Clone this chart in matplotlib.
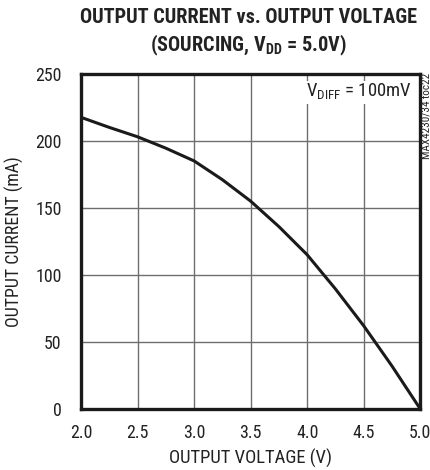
import matplotlib
matplotlib.use("Agg")
from matplotlib import pyplot as plt
from matplotlib import font_manager

# values
voltage = [2.0, 2.25, 2.5, 2.75, 3.0, 3.25, 3.5, 3.75, 4.0, 4.25, 4.5, 4.75, 5.0]
current = [217.5, 210, 203, 194.5, 185, 171, 155, 136, 115, 89.5, 62, 32, 0]
xticks = [2.0, 2.5, 3.0, 3.5, 4.0, 4.5, 5.0]
yticks = [0, 50, 100, 150, 200, 250]

# prefer a narrow face if one is installed
names = {f.name for f in font_manager.fontManager.ttflist}
fam = 'Liberation Sans'
for cand in ['Liberation Sans Narrow', 'Roboto Condensed', 'Open Sans Condensed']:
    if cand in names:
        fam = cand
        break
narrow = fam != 'Liberation Sans'
k = 1.12 if narrow else 1.0

plt.rcParams['font.family'] = [fam, 'DejaVu Sans']
plt.rcParams['mathtext.fontset'] = 'custom'
plt.rcParams['mathtext.rm'] = fam
plt.rcParams['mathtext.bf'] = fam + ':bold'

fig = plt.figure(figsize=(4.31, 4.70), dpi=100)
ax = fig.add_axes([0.188, 0.130, 0.787, 0.713])

ax.plot(voltage, current, color='#1a1a1a', lw=2.2, solid_capstyle='butt')
ax.set_xlim(2.0, 5.0)
ax.set_ylim(0, 250)
ax.set_xticks(xticks)
ax.set_xticklabels(['%.1f' % v for v in xticks])
ax.set_yticks(yticks)
ax.grid(True, color='#6e6e6e', lw=1.0)
ax.tick_params(length=0, labelsize=11.5 * k, colors='#222222')
ax.tick_params(axis='x', pad=11)
ax.tick_params(axis='y', pad=14)
for s in ax.spines.values():
    s.set_linewidth(2.4)
    s.set_color('#1a1a1a')

ax.set_xlabel('OUTPUT VOLTAGE (V)', fontsize=12 * k, labelpad=5, color='#222222')
ax.set_ylabel('OUTPUT CURRENT (mA)', fontsize=11.5 * k, labelpad=8, color='#222222')

fig.text(0.577, 0.962, 'OUTPUT CURRENT vs. OUTPUT VOLTAGE', ha='center', va='center',
         fontsize=13 * k, fontweight='bold', color='#222222')
fig.text(0.577, 0.903, r'(SOURCING, V$_{\mathbf{DD}}$ = 5.0V)', ha='center', va='center',
         fontsize=13 * k, fontweight='bold', color='#222222')

ax.text(0.975, 0.975, r'V$_{\mathregular{DIFF}}$ = 100mV', transform=ax.transAxes,
        ha='right', va='top', fontsize=12 * k, color='#222222',
        bbox=dict(facecolor='white', edgecolor='none', pad=1))
fig.text(0.99, 0.845, 'MAX4230/34 toc22', rotation=90, ha='center', va='top',
         fontsize=8, color='#222222')

fig.savefig('out.png', dpi=100)
